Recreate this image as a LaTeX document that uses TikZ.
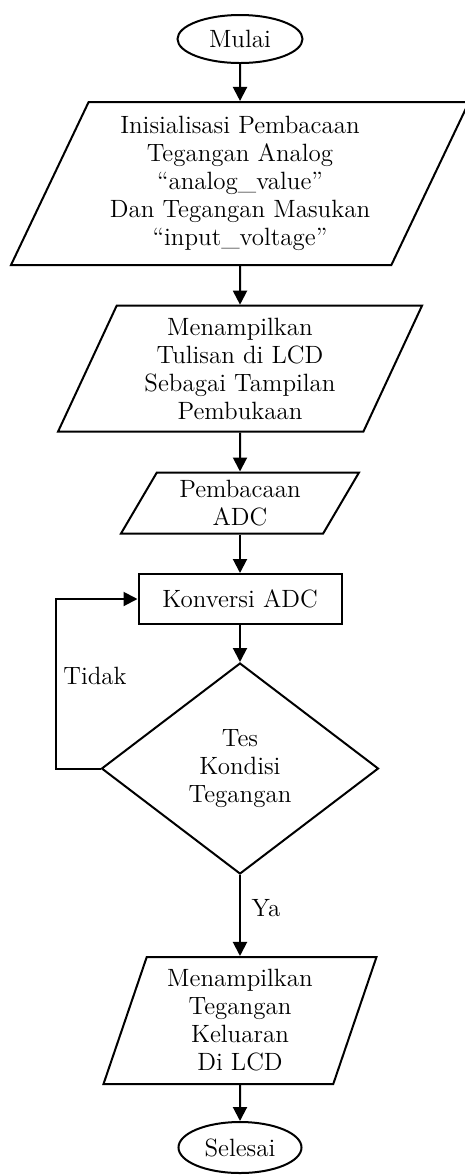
\documentclass[tikz,border=0pt]{standalone}
\usepackage{tikz}
\usetikzlibrary{shapes.geometric,arrows.meta}

\begin{document}
\begin{tikzpicture}[x=0.5pt, y=-0.5pt,
    every node/.style={font=\fontsize{12.5}{14}\selectfont, align=center},
    terminal/.style={draw, line width=1pt, ellipse, inner sep=0pt},
    iobox/.style={draw, line width=1pt, trapezium, trapezium stretches body,
      inner sep=0pt},
    procbox/.style={draw, line width=1pt, rectangle, inner sep=0pt},
    decbox/.style={draw, line width=1pt, diamond, inner sep=0pt},
    arr/.style={line width=1pt, -{Triangle[length=7pt,width=7pt]}}]
      \useasboundingbox (0,0) rectangle (465,1175);
      \node[terminal, minimum width=62.5pt, minimum height=24pt] (mulai) at (240,39) {Mulai};
      \node[iobox, trapezium left angle=60, trapezium right angle=120,
        minimum width=229pt, minimum height=81.5pt] (init) at (240,183.5)
        {Inisialisasi Pembacaan\\Tegangan Analog\\``analog\_value''\\Dan Tegangan Masukan\\``input\_voltage''};
      \node[iobox, trapezium left angle=60, trapezium right angle=120,
        minimum width=182pt, minimum height=63pt] (buka) at (240,368.7)
        {Menampilkan\\Tulisan di LCD\\Sebagai Tampilan\\Pembukaan};
      \node[iobox, trapezium left angle=52, trapezium right angle=128,
        minimum width=119pt, minimum height=30.5pt] (baca) at (240,503)
        {Pembacaan\\ADC};
      \node[procbox, minimum width=101.5pt, minimum height=25pt] (konv) at (240,599) {Konversi ADC};
      \node[decbox, minimum width=138.5pt, minimum height=105.5pt] (tes) at (240,768.5)
        {Tes\\Kondisi\\Tegangan};
      \node[iobox, trapezium left angle=67, trapezium right angle=113,
        minimum width=136.5pt, minimum height=63.5pt] (tampil) at (240,1020.5)
        {Menampilkan\\Tegangan\\Keluaran\\Di LCD};
      \node[terminal, minimum width=61.5pt, minimum height=25.5pt] (selesai) at (240,1147.5) {Selesai};
      \node (tidak) at (95,676) {Tidak};
      \node (ya) at (266,908) {Ya};
      \draw[arr] (mulai) -- (init);
      \draw[arr] (init) -- (buka);
      \draw[arr] (buka) -- (baca);
      \draw[arr] (baca) -- (konv);
      \draw[arr] (konv) -- (tes);
      \draw[arr] (tes) -- (tampil);
      \draw[arr] (tampil) -- (selesai);
      \draw[arr] (tes.west) -- ++(-45,0) |- (konv.west);
    \end{tikzpicture}
\end{document}
